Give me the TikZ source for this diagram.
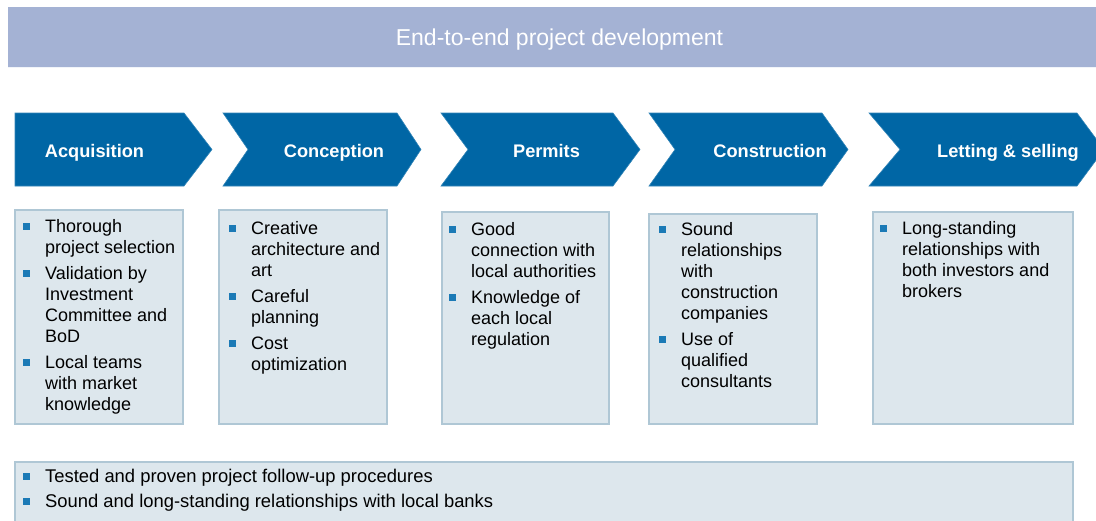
\documentclass[tikz,border=0pt]{standalone}
\usepackage{fontspec}
\setmainfont{Liberation Sans}
\definecolor{hdr}{HTML}{A4B2D4}
\definecolor{chev}{HTML}{0066A5}
\definecolor{boxfill}{HTML}{DDE7ED}
\definecolor{boxline}{HTML}{AFC7D5}
\definecolor{bul}{HTML}{1B7AB6}
\newcommand{\bitem}{\llap{\textcolor{bul}{\raisebox{2pt}{\rule{7pt}{7pt}}}\hspace{15pt}}}
\tikzset{
  chevshape/.style={fill=chev, draw=chev!80!white, line width=0.6pt},
  chevlabel/.style={text=white, font=\fontsize{18.2}{21}\selectfont\bfseries, inner sep=0pt, anchor=base},
  infobox/.style={fill=boxfill, draw=boxline, line width=1.3pt},
  infotext/.style={anchor=north west, inner sep=0pt, align=left, font=\fontsize{18}{21}\selectfont, text=black},
}
\begin{document}
\begin{tikzpicture}[x=1pt,y=-1pt]
\useasboundingbox (0,0) rectangle (1096,520);
% header
\fill[hdr] (8,7) rectangle (1100,67);
\draw[white!85!hdr, line width=1pt] (8,67) -- (1100,67);
\node[text=white, font=\fontsize{23}{26}\selectfont, inner sep=0pt, anchor=base] (title) at (559.5,45) {End-to-end project development};
% chevrons
\draw[chevshape] (15,113) -- (184,113) -- (212,149.5) -- (184,186) -- (15,186) -- cycle;
\draw[chevshape] (223,113) -- (397,113) -- (421,149.5) -- (397,186) -- (223,186) -- (248,149.5) -- cycle;
\draw[chevshape] (441,113) -- (613,113) -- (640,149.5) -- (613,186) -- (441,186) -- (468,149.5) -- cycle;
\draw[chevshape] (649,113) -- (822,113) -- (848,149.5) -- (822,186) -- (649,186) -- (675,149.5) -- cycle;
\draw[chevshape] (869,113) -- (1077,113) -- (1104,149.5) -- (1077,186) -- (869,186) -- (900,149.5) -- cycle;
\node[chevlabel] (l1) at (94.5,157) {Acquisition};
\node[chevlabel] (l2) at (334,157) {Conception};
\node[chevlabel] (l3) at (546.5,157) {Permits};
\node[chevlabel] (l4) at (770,157) {Construction};
\node[chevlabel] (l5) at (1008,157) {Letting \& selling};
% boxes
\draw[infobox] (15,210) rectangle (183,424);
\draw[infobox] (219,210) rectangle (387,424);
\draw[infobox] (442,212) rectangle (609,424);
\draw[infobox] (649,214) rectangle (817,424);
\draw[infobox] (873,212) rectangle (1073,424);
\draw[infobox] (15,462) rectangle (1073,530);
\node[infotext] (t1) at (45,219) {\bitem Thorough\\project selection\\[5pt]\bitem Validation by\\Investment\\Committee and\\BoD\\[5pt]\bitem Local teams\\with market\\knowledge};
\node[infotext] (t2) at (251,221) {\bitem Creative\\architecture and\\art\\[5pt]\bitem Careful\\planning\\[5pt]\bitem Cost\\optimization};
\node[infotext] (t3) at (471,222) {\bitem Good\\connection with\\local authorities\\[5pt]\bitem Knowledge of\\each local\\regulation};
\node[infotext] (t4) at (681,222) {\bitem Sound\\relationships\\with\\construction\\companies\\[5pt]\bitem Use of\\qualified\\consultants};
\node[infotext] (t5) at (902,221) {\bitem Long-standing\\relationships with\\both investors and\\brokers};
\node[infotext, font=\fontsize{18.4}{25}\selectfont] (t6) at (45,468.5) {\bitem Tested and proven project follow-up procedures\\\bitem Sound and long-standing relationships with local banks};
\end{tikzpicture}
\end{document}
